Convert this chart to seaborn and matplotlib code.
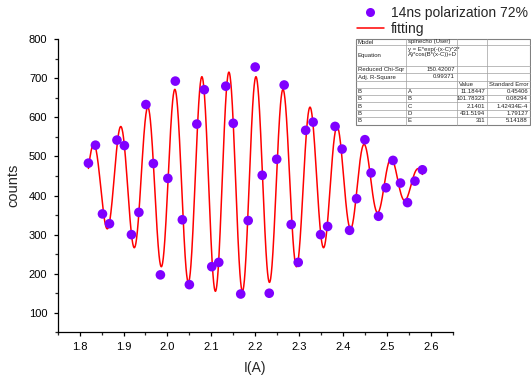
import numpy as np
import pandas as pd
import matplotlib
matplotlib.use("Agg")
import matplotlib.pyplot as plt
from matplotlib.ticker import MultipleLocator
from matplotlib.lines import Line2D
from matplotlib.patches import Rectangle
import seaborn as sns

# ---- data ----
current = [1.820, 1.836, 1.852, 1.868, 1.885, 1.902, 1.918, 1.935, 1.951, 1.968,
           1.984, 2.001, 2.018, 2.034, 2.050, 2.067, 2.084, 2.101, 2.117, 2.133,
           2.150, 2.167, 2.184, 2.200, 2.216, 2.232, 2.249, 2.266, 2.282, 2.298,
           2.315, 2.332, 2.349, 2.365, 2.382, 2.398, 2.415, 2.431, 2.450, 2.464,
           2.481, 2.498, 2.514, 2.531, 2.547, 2.564, 2.581]
counts = [483, 529, 353, 328, 542, 528, 300, 357, 633, 482,
          197, 444, 693, 338, 172, 583, 671, 218, 229, 680,
          585, 148, 336, 729, 452, 150, 493, 683, 326, 229,
          567, 588, 300, 321, 577, 519, 311, 392, 543, 458,
          347, 420, 490, 432, 382, 437, 466]

# fit report table text (as printed in the chart)
param_names = ["A", "B", "C", "D", "E"]
param_value_txt = ["11.18447", "101.78323", "2.1401", "431.5194", "311"]
param_errors = ["0.45406", "0.08294", "1.42434E-4", "1.79127", "5.14188"]

# parameters of the drawn fitting curve (shape)
curve_A = 11.18447
curve_B = 101.78323
curve_C = 2.1401
curve_D = 434.0
curve_E = 282.0

x_ticks = [1.8, 1.9, 2.0, 2.1, 2.2, 2.3, 2.4, 2.5, 2.6]
y_ticks = [100, 200, 300, 400, 500, 600, 700, 800]

# ---- style ----
sns.set_style("ticks")
plt.rcParams["font.family"] = ["Liberation Sans", "DejaVu Sans"]

W, H = 531, 384
fig = plt.figure(figsize=(W / 100, H / 100), dpi=100)
ax = fig.add_axes([57.7 / W, 1 - 332.3 / H, (452.7 - 57.7) / W, (332.3 - 39.3) / H])

df = pd.DataFrame({"I": current, "counts": counts})

xf = np.linspace(current[0], current[-1], 1500)
yf = curve_E * np.exp(-(xf - curve_C) ** 2 * curve_A) * np.cos(curve_B * (xf - curve_C)) + curve_D
fit_df = pd.DataFrame({"I": xf, "fit": yf})

sns.lineplot(data=fit_df, x="I", y="fit", ax=ax, color="#ff0000", lw=1.1,
             estimator=None, zorder=2)
sns.scatterplot(data=df, x="I", y="counts", ax=ax, color="#7f00ff", s=48,
                edgecolor="none", zorder=3)

ax.set_xlim(1.75, 2.65)
ax.set_ylim(50, 800)
ax.set_xticks(x_ticks)
ax.set_yticks(y_ticks)
ax.xaxis.set_minor_locator(MultipleLocator(0.05))
ax.yaxis.set_minor_locator(MultipleLocator(50))
ax.set_xticklabels([f"{t:.1f}" for t in x_ticks])
ax.tick_params(which="major", length=3.2, width=0.9, labelsize=8, colors="black")
ax.tick_params(axis="y", which="major", pad=4.3)
ax.tick_params(axis="x", which="major", pad=3.6)
ax.tick_params(which="minor", length=1.9, width=0.9)
for sp in ["left", "bottom"]:
    ax.spines[sp].set_linewidth(0.9)
    ax.spines[sp].set_color("black")
sns.despine(ax=ax)
ax.set_xlabel("I(A)", fontsize=10, labelpad=7)
ax.set_ylabel("counts", fontsize=10.5, labelpad=6)

# legend
handles = [Line2D([], [], marker="o", ls="none", color="#7f00ff", markersize=6.5,
                  markeredgewidth=0),
           Line2D([], [], color="#ff0000", lw=1.1)]
fig.legend(handles, ["14ns polarization 72%", "fitting"], loc="upper left",
           bbox_to_anchor=(351 / W, 1.0), frameon=False, fontsize=10,
           handlelength=2.0, handletextpad=0.5, labelspacing=0.2,
           borderaxespad=0)

# ---- fit report table ----
cols = [356, 406, 457, 487, 530]
rows = [39, 45, 66, 73, 81, 88, 95, 102, 110, 117, 125]
fs = 4.3
gray = "#a0a0a0"


def fx(px):
    return px / W


def fy(py):
    return 1 - py / H


fig.patches.append(Rectangle((fx(cols[0]), fy(rows[-1])), fx(cols[-1] - cols[0]),
                             (rows[-1] - rows[0]) / H, transform=fig.transFigure,
                             facecolor="white", edgecolor="#808080", lw=0.8,
                             zorder=5))
for r in rows[1:-1]:
    fig.add_artist(Line2D([fx(cols[0]), fx(cols[-1])], [fy(r), fy(r)],
                          transform=fig.transFigure, color=gray, lw=0.5, zorder=6))
for c in cols[1:-1]:
    fig.add_artist(Line2D([fx(c), fx(c)], [fy(rows[0]), fy(rows[-1])],
                          transform=fig.transFigure, color=gray, lw=0.5, zorder=6))


def cell(text, col, r0, r1, align="left"):
    x = fx(cols[col] + 2) if align == "left" else fx(cols[col + 1] - 2)
    y = fy((rows[r0] + rows[r1]) / 2)
    fig.text(x, y, text, fontsize=fs, ha=align, va="center", color="#222222",
             zorder=7)


cell("Model", 0, 0, 1)
cell("spinecho (User)", 1, 0, 1)
cell("Equation", 0, 1, 2)
fig.text(fx(cols[1] + 2), fy(rows[1] + 2), "y = E*exp(-(x-C)^2*\nA)*cos(B*(x-C))+D",
         fontsize=fs, ha="left", va="top", color="#222222", zorder=7,
         linespacing=1.0)
cell("Reduced Chi-Sqr", 0, 2, 3)
cell("150.42007", 1, 2, 3, "right")
cell("Adj. R-Square", 0, 3, 4)
cell("0.99371", 1, 3, 4, "right")
cell("Value", 2, 4, 5)
cell("Standard Error", 3, 4, 5)
for i, (n, v, e) in enumerate(zip(param_names, param_value_txt, param_errors)):
    cell("B", 0, 5 + i, 6 + i)
    cell(n, 1, 5 + i, 6 + i)
    cell(v, 2, 5 + i, 6 + i, "right")
    cell(e, 3, 5 + i, 6 + i, "right")

fig.savefig("out.png", dpi=100)
